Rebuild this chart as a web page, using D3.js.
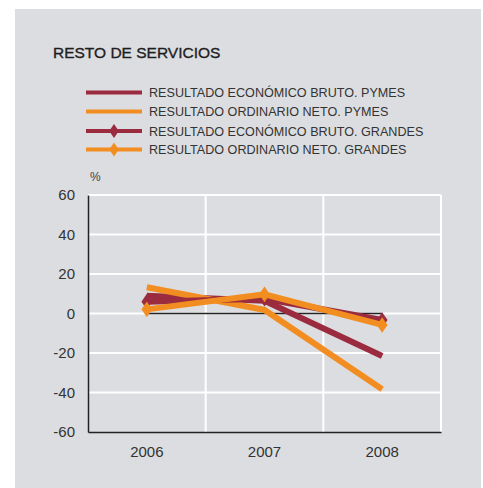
<!DOCTYPE html>
<html><head><meta charset="utf-8">
<script src="https://cdn.jsdelivr.net/npm/d3@7"></script>
<style>body{margin:0;background:#fff;}svg{display:block;font-family:"Liberation Sans",Arial,sans-serif;}</style>
</head><body><svg id="c" width="483" height="488"></svg>
<script>
const categories = ["2006", "2007", "2008"];
const rebPymes = [9, 6.5, -21.5];
const ronPymes = [13.3, 1.8, -38.4];
const rebGrandes = [6, 7.5, -3.3];
const ronGrandes = [2.1, 9.7, -5.8];
const yTicks = [60, 40, 20, 0, -20, -40, -60];
const seriesNames = ["RESULTADO ECONÓMICO BRUTO. PYMES","RESULTADO ORDINARIO NETO. PYMES","RESULTADO ECONÓMICO BRUTO. GRANDES","RESULTADO ORDINARIO NETO. GRANDES"];
(function(){
const RED = "#9b2b3f", ORANGE = "#f28e21";
const series = [
  {name: seriesNames[0], values: rebPymes, color: RED, marker: false},
  {name: seriesNames[1], values: ronPymes, color: ORANGE, marker: false},
  {name: seriesNames[2], values: rebGrandes, color: RED, marker: true},
  {name: seriesNames[3], values: ronGrandes, color: ORANGE, marker: true}
];
const svg = d3.select("#c");
svg.append("rect").attr("x",15).attr("y",9).attr("width",466).attr("height",479).attr("fill","#dcdde0");
svg.append("text").attr("x",53).attr("y",58).attr("font-size",15.5).attr("fill","#1e1e1e")
  .attr("stroke","#1e1e1e").attr("stroke-width",0.35).text("RESTO DE SERVICIOS");

const pL=88,pR=441,pT=195,pB=432;
const x = d3.scaleBand().domain(categories).range([pL,pR]);
const y = d3.scaleLinear().domain([-60,60]).range([pB,pT]);
const g = svg.append("g");
g.selectAll(".hg").data(yTicks.filter(d=>d!==-60)).enter().append("line")
  .attr("x1",pL).attr("x2",pR).attr("y1",d=>y(d)).attr("y2",d=>y(d))
  .attr("stroke","#fff").attr("stroke-width",2);
const vx = categories.slice(1).map(c=>x(c)).concat([pR]);
g.selectAll(".vg").data(vx).enter().append("line")
  .attr("x1",d=>d).attr("x2",d=>d).attr("y1",pT).attr("y2",pB)
  .attr("stroke","#fff").attr("stroke-width",2);
const yAxis = d3.axisLeft(y).tickValues(yTicks).tickSize(0).tickPadding(13).tickFormat(d=>String(d));
const ya = g.append("g").attr("transform",`translate(${pL},0)`).call(yAxis);
ya.select(".domain").attr("stroke","#222").attr("stroke-width",1.5);
ya.selectAll("text").attr("font-size",15).attr("fill","#333").attr("font-family","Liberation Sans, Arial, sans-serif");
const xAxis = d3.axisBottom(x).tickSize(0).tickPadding(14);
const xa = g.append("g").attr("transform",`translate(0,${pB})`).call(xAxis);
xa.select(".domain").attr("stroke","#222").attr("stroke-width",1.5);
xa.selectAll("text").attr("font-size",15).attr("fill","#333").attr("font-family","Liberation Sans, Arial, sans-serif");
const cx = c => x(c) + x.bandwidth()/2;
g.append("line").attr("x1",cx(categories[0])).attr("x2",cx(categories[categories.length-1]))
  .attr("y1",y(0)).attr("y2",y(0)).attr("stroke","#222").attr("stroke-width",1.5);
svg.append("text").attr("x",90).attr("y",181).attr("font-size",12).attr("fill","#444").text("%");

const line = d3.line().x((d,i)=>cx(categories[i])).y(d=>y(d));
const diamond = d3.symbol().type(d3.symbolDiamond).size(70);
series.forEach(s=>{
  g.append("path").attr("d",line(s.values)).attr("fill","none").attr("stroke",s.color).attr("stroke-width",6).attr("stroke-linejoin","miter");
  if(s.marker){
    g.selectAll(null).data(s.values).enter().append("path").attr("d",diamond)
      .attr("transform",(d,i)=>`translate(${cx(categories[i])},${y(d)}) scale(1.2,1)`).attr("fill",s.color);
  }
});
const leg = svg.append("g");
const ly = [92.5, 111.5, 131, 149.5];
series.forEach((s,i)=>{
  leg.append("line").attr("x1",86).attr("x2",142).attr("y1",ly[i]).attr("y2",ly[i]).attr("stroke",s.color).attr("stroke-width",4);
  if(s.marker) leg.append("path").attr("d",d3.symbol().type(d3.symbolDiamond).size(55)).attr("transform",`translate(114,${ly[i]}) scale(1.2,1)`).attr("fill",s.color);
  leg.append("text").attr("x",149).attr("y",ly[i]+4.7).attr("font-size",12.6).attr("fill","#333").text(s.name);
});
})();
</script></body></html>
